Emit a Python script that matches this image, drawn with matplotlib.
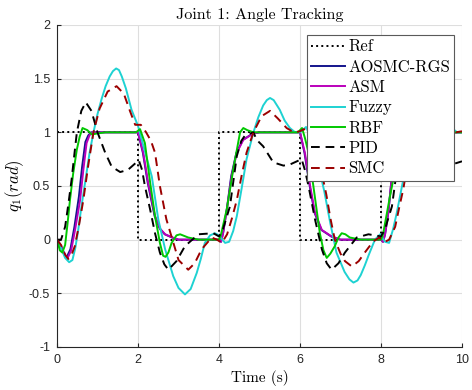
import matplotlib
matplotlib.use("Agg")
import matplotlib.pyplot as plt

plt.rcParams['mathtext.fontset'] = 'cm'

# reference square wave
t_ref = [0, 2, 2, 4, 4, 6, 6, 8, 8, 10]
q_ref = [1, 1, 0, 0, 1, 1, 0, 0, 1, 1]

t_aosmc = [0, 0.1, 0.23, 0.33, 0.43, 0.54, 0.62, 0.7, 0.77, 0.84, 2.0, 2.12, 2.24, 2.41, 2.54, 2.66, 2.84, 3.0,
           4.0, 4.05, 4.1, 4.2, 4.3, 4.43, 4.59, 4.84, 5.0, 6.0, 6.11, 6.24, 6.36, 6.53, 6.77, 7.0,
           8.0, 8.05, 8.1, 8.18, 8.26, 8.4, 8.55, 8.8, 9.0, 10.0]
q_aosmc = [0, -0.06, -0.17, -0.09, 0.12, 0.4, 0.68, 0.91, 0.97, 1.0, 1.0, 0.81, 0.53, 0.22, 0.1, 0.05, 0.02, 0.0,
           0.0, -0.02, 0.06, 0.3, 0.59, 0.81, 0.93, 0.99, 1.0, 1.0, 0.81, 0.5, 0.25, 0.09, 0.03, 0.0,
           0.0, -0.02, 0.05, 0.25, 0.56, 0.81, 0.93, 0.99, 1.0, 1.0]

t_asm = [0, 0.1, 0.25, 0.35, 0.45, 0.57, 0.65, 0.73, 0.8, 0.86, 2.0, 2.13, 2.25, 2.42, 2.55, 2.67, 2.85, 3.0,
         4.0, 4.05, 4.1, 4.2, 4.31, 4.44, 4.6, 4.85, 5.0, 6.0, 6.12, 6.25, 6.37, 6.54, 6.78, 7.0,
         8.0, 8.05, 8.1, 8.18, 8.26, 8.4, 8.55, 8.8, 9.0, 10.0]
q_asm = [0, -0.07, -0.18, -0.1, 0.1, 0.37, 0.65, 0.9, 0.97, 1.0, 1.0, 0.81, 0.53, 0.22, 0.1, 0.05, 0.02, 0.0,
         0.0, -0.02, 0.06, 0.3, 0.59, 0.81, 0.93, 0.99, 1.0, 1.0, 0.81, 0.5, 0.25, 0.09, 0.03, 0.0,
         0.0, -0.02, 0.05, 0.25, 0.56, 0.81, 0.93, 0.99, 1.0, 1.0]

t_fuzzy = [0, 0.1, 0.2, 0.3, 0.38, 0.45, 0.52, 0.6, 0.7, 0.8, 0.9, 1.0, 1.1, 1.2, 1.3, 1.38, 1.46, 1.53, 1.6, 1.7,
           1.84, 2.0, 2.15, 2.34, 2.5, 2.67, 2.87, 3.0, 3.16, 3.3, 3.45, 3.55, 3.65, 3.78, 3.9, 4.0, 4.15,
           4.25, 4.35, 4.44, 4.56, 4.68, 4.85, 4.97, 5.09, 5.18, 5.26, 5.35, 5.5, 5.62, 5.75, 5.88, 6.0, 6.15,
           6.3, 6.45, 6.6, 6.75, 6.9, 7.1, 7.22, 7.32, 7.42, 7.5, 7.6, 7.7, 7.85, 7.98, 8.1, 8.2,
           8.3, 8.39, 8.55, 8.7, 8.85, 8.97, 9.09, 9.18, 9.26, 9.35, 9.5, 9.62, 9.75, 9.88, 10.0]
q_fuzzy = [0, -0.08, -0.17, -0.21, -0.19, -0.08, 0.08, 0.3, 0.55, 0.8, 1.0, 1.17, 1.31, 1.43, 1.52, 1.57, 1.595, 1.58, 1.52, 1.41,
           1.21, 1.06, 0.85, 0.59, 0.19, -0.09, -0.34, -0.45, -0.51, -0.46, -0.31, -0.18, -0.03, 0.04, 0.06, 0.04, -0.03,
           -0.02, 0.08, 0.22, 0.48, 0.75, 1.0, 1.14, 1.25, 1.3, 1.32, 1.3, 1.21, 1.11, 1.04, 1.0, 1.0, 1.05,
           0.92, 0.7, 0.45, 0.15, -0.12, -0.3, -0.37, -0.4, -0.38, -0.33, -0.24, -0.14, 0.0, 0.05, -0.02, -0.03,
           0.1, 0.25, 0.56, 0.8, 1.0, 1.14, 1.25, 1.3, 1.32, 1.3, 1.21, 1.11, 1.04, 1.0, 1.0]

t_rbf = [0, 0.07, 0.13, 0.2, 0.26, 0.32, 0.4, 0.49, 0.56, 0.63, 0.75, 0.86, 1.0, 1.2, 1.95, 2.05, 2.17, 2.3, 2.42, 2.54,
         2.62, 2.68, 2.75, 2.83, 2.95, 3.04, 3.24, 3.5, 4.0, 4.05, 4.19, 4.35, 4.52, 4.6, 4.7, 4.85,
         5.95, 6.05, 6.12, 6.21, 6.33, 6.49, 6.58, 6.66, 6.75, 6.86, 6.95, 7.03, 7.12, 7.23, 7.5,
         8.0, 8.05, 8.22, 8.35, 8.52, 8.6, 8.7, 8.85, 10.0]
q_rbf = [0, -0.1, -0.12, -0.05, 0.15, 0.37, 0.62, 0.84, 0.96, 1.04, 1.02, 0.98, 0.99, 1.0, 1.0, 1.03, 0.9, 0.53, 0.22, -0.03,
         -0.15, -0.16, -0.12, -0.03, 0.04, 0.05, 0.02, 0.0, 0.0, 0.05, 0.28, 0.65, 1.0, 1.04, 1.02, 1.0,
         1.0, 1.04, 0.95, 0.81, 0.5, 0.06, -0.1, -0.17, -0.13, -0.06, 0.02, 0.06, 0.05, 0.02, 0.0,
         0.0, 0.05, 0.4, 0.65, 1.0, 1.04, 1.02, 1.0, 1.0]

t_pid = [0, 0.1, 0.2, 0.28, 0.36, 0.43, 0.49, 0.6, 0.71, 0.85, 1.0, 1.19, 1.35, 1.56, 1.75, 1.9, 2.02, 2.1, 2.17, 2.3,
         2.42, 2.54, 2.65, 2.75, 2.95, 3.16, 3.49, 3.86, 4.0, 4.1, 4.27, 4.36, 4.44, 4.55, 4.64, 4.85, 4.93, 5.09,
         5.34, 5.59, 5.75, 6.04, 6.12, 6.21, 6.37, 6.54, 6.66, 6.78, 6.95, 7.11, 7.4, 7.69, 8.0, 8.1,
         8.27, 8.36, 8.44, 8.55, 8.64, 8.85, 8.93, 9.09, 9.34, 9.59, 9.75, 10.0]
q_pid = [0, 0.0, 0.12, 0.33, 0.56, 0.8, 1.0, 1.2, 1.28, 1.2, 1.0, 0.81, 0.68, 0.63, 0.65, 0.7, 0.74, 0.65, 0.5, 0.28,
         0.06, -0.12, -0.23, -0.28, -0.2, -0.06, 0.05, 0.06, 0.03, 0.1, 0.31, 0.56, 0.78, 0.92, 0.97, 1.0, 0.93, 0.87,
         0.72, 0.69, 0.7, 0.75, 0.65, 0.5, 0.19, -0.09, -0.22, -0.28, -0.22, -0.12, 0.02, 0.05, 0.03, 0.1,
         0.31, 0.56, 0.78, 0.92, 0.97, 1.0, 0.93, 0.87, 0.72, 0.69, 0.7, 0.73]

t_smc = [0, 0.1, 0.2, 0.28, 0.36, 0.44, 0.55, 0.65, 0.77, 0.9, 1.05, 1.25, 1.47, 1.65, 1.8, 1.93, 2.07, 2.2, 2.32,
         2.42, 2.54, 2.7, 2.85, 3.0, 3.24, 3.4, 3.57, 3.82, 3.95, 4.07, 4.2, 4.32, 4.44, 4.56, 4.68, 4.85, 5.05, 5.26,
         5.45, 5.67, 5.85, 6.0, 6.1, 6.25, 6.4, 6.55, 6.65, 6.75, 6.86, 7.0, 7.11, 7.28, 7.45, 7.6, 7.8, 7.95,
         8.1, 8.2, 8.35, 8.45, 8.55, 8.7, 8.85, 9.05, 9.26, 9.45, 9.67, 9.85, 10.0]
q_smc = [0, -0.05, -0.14, -0.18, -0.14, -0.06, 0.15, 0.37, 0.69, 1.0, 1.22, 1.38, 1.43, 1.36, 1.2, 1.07, 1.07, 1.0, 0.92,
         0.81, 0.5, 0.19, 0.0, -0.19, -0.28, -0.22, -0.09, 0.02, 0.0, -0.03, 0.05, 0.2, 0.37, 0.6, 0.81, 1.0, 1.15, 1.2,
         1.13, 1.04, 1.0, 1.01, 1.03, 0.95, 0.8, 0.6, 0.42, 0.2, 0.0, -0.13, -0.2, -0.25, -0.2, -0.12, -0.02, 0.02,
         -0.02, 0.0, 0.12, 0.3, 0.47, 0.81, 1.0, 1.15, 1.2, 1.13, 1.04, 1.0, 1.01]

x_ticks = [0, 2, 4, 6, 8, 10]
y_ticks = [-1, -0.5, 0, 0.5, 1, 1.5, 2]
y_tick_labels = ['-1', '-0.5', '0', '0.5', '1', '1.5', '2']

fig = plt.figure(figsize=(4.72, 3.90), dpi=100)
ax = fig.add_axes([0.1208, 0.1103, 0.858, 0.8256])

lw = 1.4
ax.plot(t_ref, q_ref, color='black', linestyle=':', linewidth=lw, label='Ref')
ax.plot(t_aosmc, q_aosmc, color='#14148c', linewidth=lw, label='AOSMC-RGS')
ax.plot(t_asm, q_asm, color='#bb00bb', linewidth=lw, label='ASM')
ax.plot(t_fuzzy, q_fuzzy, color='#1ed2d2', linewidth=lw, label='Fuzzy')
ax.plot(t_rbf, q_rbf, color='#00c800', linewidth=lw, label='RBF')
ax.plot(t_pid, q_pid, color='black', linestyle=(0, (4.5, 3)), linewidth=lw, label='PID')
ax.plot(t_smc, q_smc, color='#9b0000', linestyle=(0, (4.5, 3)), linewidth=lw, label='SMC')

ax.set_xlim(0, 10)
ax.set_ylim(-1, 2)
ax.set_xticks(x_ticks)
ax.set_yticks(y_ticks)
ax.set_yticklabels(y_tick_labels)
for lab in ax.get_xticklabels() + ax.get_yticklabels():
    lab.set_family('Liberation Sans')
    lab.set_fontsize(9)
ax.tick_params(direction='in', length=3, color='#262626', labelcolor='#262626', pad=5)
ax.grid(True, color='#dedede', linewidth=0.8)
ax.set_axisbelow(True)
for side in ['top', 'right']:
    ax.spines[side].set_visible(False)
for side in ['left', 'bottom']:
    ax.spines[side].set_color('#262626')
    ax.spines[side].set_linewidth(0.8)

ax.set_title('Joint 1: Angle Tracking', family='cmr10', fontsize=11.5, pad=4)
ax.set_xlabel('Time (s)', family='cmr10', fontsize=11, labelpad=3)
ax.set_ylabel(r'$q_1(rad)$', fontsize=12, labelpad=2)

leg = ax.legend(loc='upper right', bbox_to_anchor=(0.98, 0.969), borderaxespad=0,
                prop={'family': 'cmr10', 'size': 12}, handlelength=2.0, handletextpad=0.2,
                labelspacing=0.3, borderpad=0.25, fancybox=False, framealpha=1)
leg.get_frame().set_edgecolor('#5a5a5a')
leg.get_frame().set_linewidth(0.8)

fig.savefig('out.png', dpi=100)
